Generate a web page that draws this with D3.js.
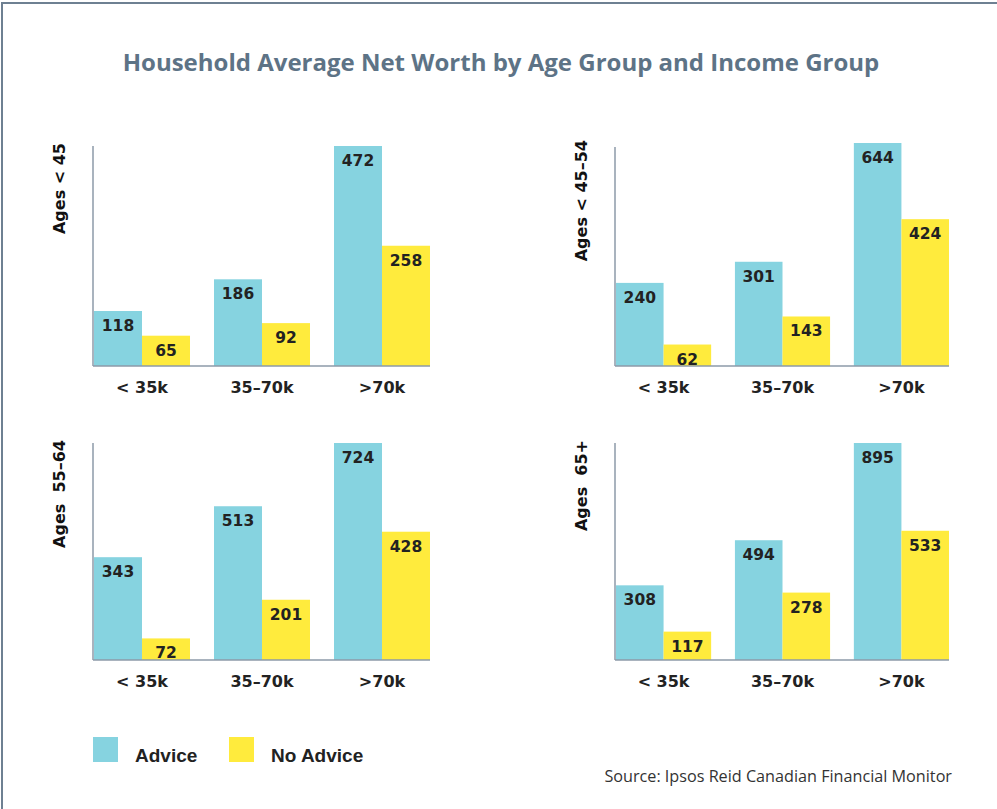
<!DOCTYPE html>
<html>
<head>
<meta charset="utf-8">
<script src="https://cdn.jsdelivr.net/npm/d3@7"></script>
<style>
  body { margin: 0; background: #fff; }
  svg { display: block; }
</style>
</head>
<body>
<svg id="chart" width="997" height="809"></svg>
<script>
// data (thousands of dollars)
const incomeGroups = ["< 35k", "35\u201370k", ">70k"];
const seriesNames = ["Advice", "No Advice"];
const ageGroups = ["Ages < 45", "Ages < 45\u201354", "Ages  55\u201364", "Ages  65+"];
const adviceValues = [
  [118, 186, 472],
  [240, 301, 644],
  [343, 513, 724],
  [308, 494, 895]
];
const noAdviceValues = [
  [65, 92, 258],
  [62, 143, 424],
  [72, 201, 428],
  [117, 278, 533]
];

const colors = ["#86d3e0", "#ffeb3d"];
const W = 997, H = 809;
const svg = d3.select("#chart");

// frame
svg.append("rect")
  .attr("x", 2).attr("y", 3)
  .attr("width", W + 10).attr("height", H + 10)
  .attr("fill", "none")
  .attr("stroke", "#6e8092")
  .attr("stroke-width", 2);

svg.append("text")
  .attr("x", 501).attr("y", 71)
  .attr("text-anchor", "middle")
  .attr("font-family", "Open Sans, sans-serif")
  .attr("font-weight", "bold")
  .attr("font-size", 24)
  .attr("fill", "#5d7386")
  .text("Household Average Net Worth by Age Group and Income Group");

// panel layout
const panels = [
  { left: 93, right: 430, top: 146, base: 366 },
  { left: 615, right: 949, top: 143, base: 366 },
  { left: 93, right: 430, top: 443, base: 660 },
  { left: 615, right: 949, top: 443, base: 660 }
];

panels.forEach((p, i) => {
  const g = svg.append("g");
  const rows = incomeGroups.map((c, j) => ({
    cat: c,
    vals: [adviceValues[i][j], noAdviceValues[i][j]]
  }));
  const maxV = d3.max(rows, d => d3.max(d.vals));

  const x0 = d3.scaleBand()
    .domain(incomeGroups)
    .range([p.left + 1, p.right])
    .paddingInner(0.2);
  const x1 = d3.scaleBand()
    .domain(seriesNames)
    .range([0, x0.bandwidth()]);
  const y = d3.scaleLinear()
    .domain([0, maxV])
    .range([p.base, p.top]);

  const grp = g.selectAll("g.grp")
    .data(rows)
    .join("g")
    .attr("transform", d => `translate(${x0(d.cat)},0)`);

  const bars = grp.selectAll("g.bar")
    .data(d => d.vals.map((v, k) => ({ name: seriesNames[k], v, k })))
    .join("g");

  bars.append("rect")
    .attr("x", d => x1(d.name))
    .attr("y", d => y(d.v))
    .attr("width", x1.bandwidth())
    .attr("height", d => p.base - y(d.v))
    .attr("fill", d => colors[d.k]);

  bars.append("text")
    .attr("x", d => x1(d.name) + x1.bandwidth() / 2)
    .attr("y", d => y(d.v) + 20)
    .attr("text-anchor", "middle")
    .attr("font-family", "DejaVu Sans, sans-serif")
    .attr("font-weight", "bold")
    .attr("font-size", 15.5)
    .attr("fill", "#222")
    .text(d => d.v);

  // axis lines
  g.append("line")
    .attr("x1", p.left).attr("x2", p.left)
    .attr("y1", p.top + (i === 1 ? 4 : 0)).attr("y2", p.base)
    .attr("stroke", "#8c9aa8").attr("stroke-width", 1.5);
  g.append("line")
    .attr("x1", p.left).attr("x2", p.right)
    .attr("y1", p.base).attr("y2", p.base)
    .attr("stroke", "#8c9aa8").attr("stroke-width", 1.5);

  // category labels
  g.selectAll("text.cat")
    .data(incomeGroups)
    .join("text")
    .attr("x", d => x0(d) + x0.bandwidth() / 2)
    .attr("y", p.base + 27)
    .attr("text-anchor", "middle")
    .attr("font-family", "DejaVu Sans, sans-serif")
    .attr("font-weight", "bold")
    .attr("font-size", 16)
    .attr("fill", "#222")
    .text(d => d);

  // age group label
  g.append("text")
    .attr("transform", `translate(${p.left - 28},${p.top - 3}) rotate(-90)`)
    .attr("text-anchor", "end")
    .attr("font-family", "DejaVu Sans, sans-serif")
    .attr("font-weight", "bold")
    .attr("font-size", 16)
    .attr("fill", "#111")
    .style("white-space", "pre")
    .text(ageGroups[i]);
});

// legend
const legend = svg.append("g");
const legX = [93, 229];
seriesNames.forEach((n, k) => {
  legend.append("rect")
    .attr("x", legX[k]).attr("y", 737)
    .attr("width", 25).attr("height", 25)
    .attr("fill", colors[k]);
  legend.append("text")
    .attr("x", legX[k] + 42).attr("y", 762)
    .attr("font-family", "Liberation Sans, Arial, sans-serif")
    .attr("font-weight", "bold")
    .attr("font-size", 19)
    .attr("fill", "#222")
    .text(n);
});

svg.append("text")
  .attr("x", 952).attr("y", 782)
  .attr("text-anchor", "end")
  .attr("font-family", "Open Sans, sans-serif")
  .attr("font-size", 16.2)
  .attr("fill", "#333")
  .text("Source: Ipsos Reid Canadian Financial Monitor");
</script>
</body>
</html>
